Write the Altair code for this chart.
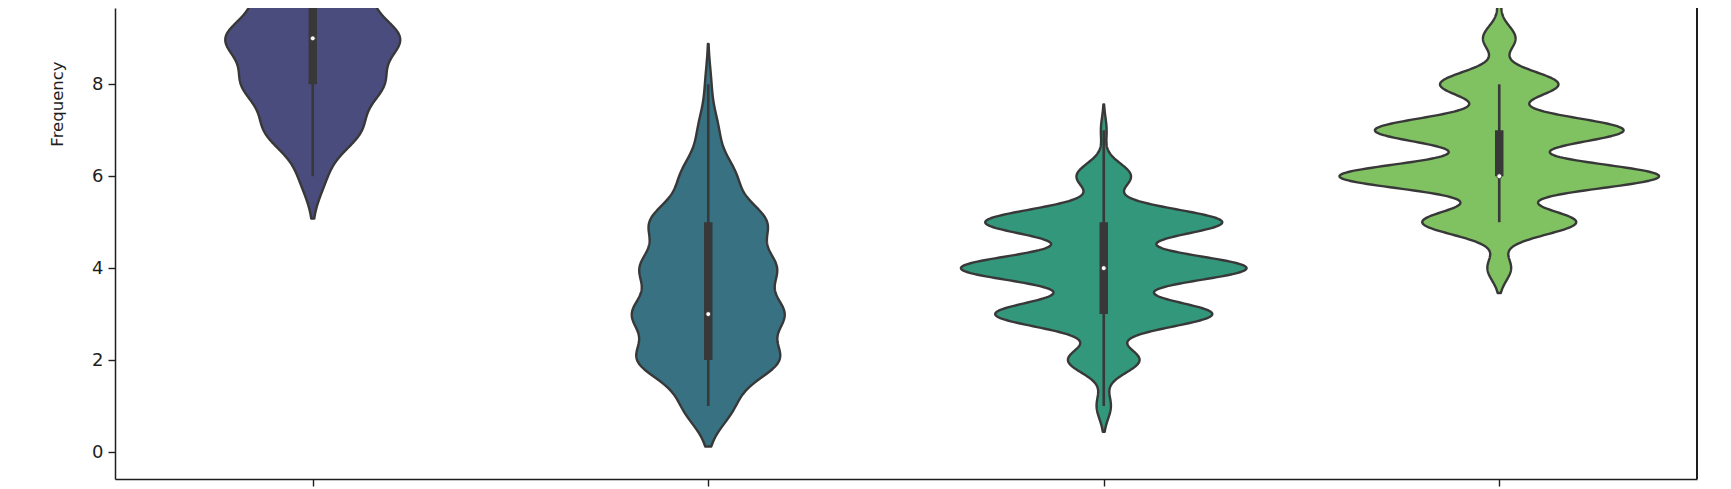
import altair as alt
import pandas as pd

# ---- data ----
GROUP_POSITIONS = [0, 1, 2, 3]

# observed values (integers) and how many observations sit at each value
G0_VALUES = [6, 7, 8, 9, 10, 11, 12]
G0_COUNTS = [13, 49, 70, 89, 55, 25, 8]
G1_VALUES = [1, 2, 3, 4, 5, 6, 7, 8]
G1_COUNTS = [25, 71, 74, 66, 58, 27, 10, 3]
G2_VALUES = [1, 2, 3, 4, 5, 6, 7]
G2_COUNTS = [5, 25, 76, 100, 83, 19, 2]
G3_VALUES = [4, 5, 6, 7, 8, 9, 10]
G3_COUNTS = [8, 52, 108, 84, 40, 11, 2]

BANDWIDTHS = [0.46, 0.44, 0.28, 0.27]

# inner box statistics
Q1 = [8, 2, 3, 6]
MEDIAN = [9, 3, 4, 6]
Q3 = [10, 5, 5, 7]
WHISKER_LO = [6, 1, 1, 5]
WHISKER_HI = [12, 8, 7, 8]

Y_TICKS = [0, 2, 4, 6, 8, 10]

# ---- styles ----
FILL_COLORS = ["#4a4c7e", "#377182", "#33977c", "#80c161"]
LINE_COLOR = "#383838"
AXIS_COLOR = "#1e1e1e"
PLOT_W = 1582
PLOT_H = 471
Y_DOMAIN = [-0.587, 9.66]
X_DOMAIN = [-0.5, 3.5]
PX_PER_X = PLOT_W / (X_DOMAIN[1] - X_DOMAIN[0])
WIDTH_SCALE = 1.0 / PX_PER_X  # one count-density unit -> one pixel half width
CUT = 2

groups_values = [G0_VALUES, G1_VALUES, G2_VALUES, G3_VALUES]
groups_counts = [G0_COUNTS, G1_COUNTS, G2_COUNTS, G3_COUNTS]

rows = []
for g, (vals, cnts) in enumerate(zip(groups_values, groups_counts)):
    for v, c in zip(vals, cnts):
        rows.extend({"group": g, "value": v} for _ in range(c))
raw = pd.DataFrame(rows)

stats = pd.DataFrame({
    "pos": GROUP_POSITIONS,
    "q1": Q1, "med": MEDIAN, "q3": Q3, "wlo": WHISKER_LO, "whi": WHISKER_HI,
})

FONT = "DejaVu Sans"
y_scale = alt.Scale(domain=Y_DOMAIN, nice=False, zero=False)
x_scale = alt.Scale(domain=X_DOMAIN, nice=False, zero=False)

y_axis = alt.Axis(
    title="Frequency", values=Y_TICKS, grid=False,
    labelFont=FONT, labelFontSize=18, labelColor=AXIS_COLOR,
    titleFont=FONT, titleFontSize=16.5, titleFontWeight="normal", titleColor=AXIS_COLOR,
    tickSize=7, tickWidth=1.4, tickColor=AXIS_COLOR,
    domainColor=AXIS_COLOR, domainWidth=1.5, labelPadding=5,
    titleAngle=-90, titleX=-53, titleY=95.5, titleAlign="center",
    titleBaseline="alphabetic",
)
x_axis = alt.Axis(
    title=None, values=GROUP_POSITIONS, labels=False, grid=False,
    tickSize=7, tickWidth=1.4, tickColor=AXIS_COLOR,
    domainColor=AXIS_COLOR, domainWidth=1.5,
)

layers = []
for g in GROUP_POSITIONS:
    vals = [v for v, c in zip(groups_values[g], groups_counts[g]) if c > 0]
    h = BANDWIDTHS[g]
    extent = [min(vals) - CUT * h, max(vals) + CUT * h]
    layer = (
        alt.Chart(raw)
        .transform_filter(alt.datum.group == g)
        .transform_density(
            "value", as_=["value", "density"], bandwidth=h,
            extent=extent, steps=400, counts=True,
        )
        .transform_calculate(
            left=f"{g} - datum.density * {WIDTH_SCALE}",
            right=f"{g} + datum.density * {WIDTH_SCALE}",
        )
        .mark_area(
            orient="horizontal", fill=FILL_COLORS[g], fillOpacity=1,
            stroke=LINE_COLOR, strokeWidth=2.4, strokeJoin="round", clip=True,
        )
        .encode(
            y=alt.Y("value:Q", scale=y_scale, axis=y_axis),
            x=alt.X("left:Q", scale=x_scale, axis=x_axis, stack=None),
            x2="right:Q",
        )
    )
    layers.append(layer)

base = alt.Chart(stats)
whisker = base.mark_rule(color=LINE_COLOR, strokeWidth=2.6, clip=True).encode(
    x=alt.X("pos:Q", scale=x_scale, axis=x_axis),
    y=alt.Y("wlo:Q", scale=y_scale, axis=y_axis),
    y2="whi:Q",
)
box = base.mark_rule(color=LINE_COLOR, strokeWidth=8.5, strokeCap="butt", clip=True).encode(
    x=alt.X("pos:Q", scale=x_scale, axis=x_axis),
    y=alt.Y("q1:Q", scale=y_scale, axis=y_axis),
    y2="q3:Q",
)
median = base.mark_point(
    shape="circle", filled=True, fill="white", fillOpacity=1,
    stroke=LINE_COLOR, strokeWidth=0.8, size=24, clip=True,
).encode(
    x=alt.X("pos:Q", scale=x_scale, axis=x_axis),
    y=alt.Y("med:Q", scale=y_scale, axis=y_axis),
)

right_spine = alt.Chart(stats).mark_rule(color=AXIS_COLOR, strokeWidth=1.5).encode(
    x=alt.X(datum=X_DOMAIN[1], scale=x_scale, axis=x_axis),
    y=alt.value(0),
    y2=alt.value(PLOT_H),
)

chart = (
    alt.layer(*layers, whisker, box, median, right_spine)
    .properties(
        width=PLOT_W, height=PLOT_H,
        autosize=alt.AutoSizeParams(type="none"),
        padding={"left": 107, "top": 0, "right": 26, "bottom": 40},
        background="white",
    )
    .configure_view(stroke=None)
)

chart.save("out.html", embed_options={"renderer": "svg", "actions": False})
